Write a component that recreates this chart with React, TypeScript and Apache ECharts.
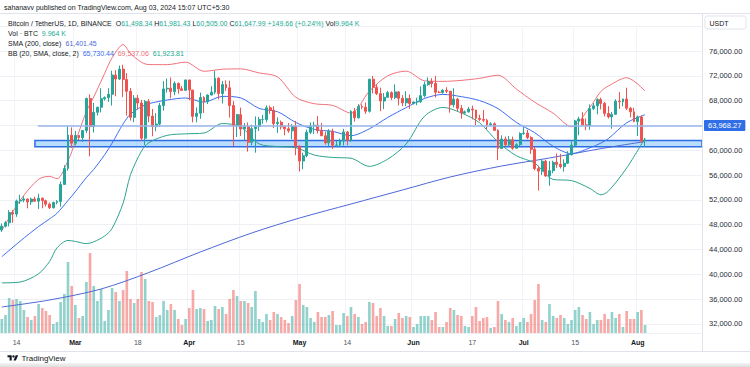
import React, { useEffect, useRef } from "react";
import * as echarts from "echarts";

// ---------- data ----------
const START = Date.UTC(2024, 1, 10);
const DAY = 86400000;
const SLOTS = 191;

const opens = [
  47130, 47750, 48290, 49960, 49700, 51800, 51940, 52130, 51660, 52120,
  51780, 52260, 51850, 51300, 50730, 51570, 51730, 54480, 57040, 62430,
  61130, 62390, 62030, 63170, 68330, 63800, 66110, 66930, 68300, 68500,
  69020, 72120, 71480, 73080, 71390, 69500, 65300, 68390, 67610, 61940,
  67840, 65500, 63800, 64220, 67210, 69880, 69990, 69460, 70780, 69900,
  69650, 71330, 69700, 65460, 65960, 68490, 67830, 68900, 69360, 71620,
  69150, 70590, 70060, 67200, 63920, 65740, 63420, 63790, 61280, 63470,
  63820, 64940, 64940, 66840, 66410, 64280, 64500, 63770, 63460, 63120,
  63840, 60640, 58250, 59120, 62890, 63890, 64030, 63160, 62330, 61190,
  63070, 60790, 60830, 61480, 62940, 61580, 66270, 65230, 67050, 66940,
  66280, 71450, 70140, 69120, 67930, 68530, 69280, 68500, 69400, 68370,
  67640, 68350, 67530, 67770, 67820, 68800, 70570, 71080, 70760, 69340,
  69310, 69650, 69510, 67320, 68240, 66750, 66010, 66190, 66640, 66490,
  65140, 64960, 64830, 64100, 64260, 63200, 60280, 61800, 60860, 61670,
  60320, 60890, 62680, 62770, 62040, 60150, 57030, 56630, 58230, 55850,
  56700, 58050, 57720, 57340, 57900, 59230, 60800, 64720, 65040, 64090,
  63970, 66710, 67150, 68170, 67540, 65930, 65370, 65780, 67910, 67810,
  68260, 66780, 66190, 64620, 65360, 61498.34,
];
const closes = [
  47750, 48290, 49960, 49700, 51800, 51940, 52130, 51660, 52120, 51780,
  52260, 51850, 51300, 50730, 51570, 51730, 54480, 57040, 62430, 61130,
  62390, 62030, 63170, 68330, 63800, 66110, 66930, 68300, 68500, 69020,
  72120, 71480, 73080, 71390, 69500, 65300, 68390, 67610, 61940, 67840,
  65500, 63800, 64220, 67210, 69880, 69990, 69460, 70780, 69900, 69650,
  71330, 69700, 65460, 65960, 68490, 67830, 68900, 69360, 71620, 69150,
  70590, 70060, 67200, 63920, 65740, 63420, 63790, 61280, 63470, 63820,
  64940, 64940, 66840, 66410, 64280, 64500, 63770, 63460, 63120, 63840,
  60640, 58250, 59120, 62890, 63890, 64030, 63160, 62330, 61190, 63070,
  60790, 60830, 61480, 62940, 61580, 66270, 65230, 67050, 66940, 66280,
  71450, 70140, 69120, 67930, 68530, 69280, 68500, 69400, 68370, 67640,
  68350, 67530, 67770, 67820, 68800, 70570, 71080, 70760, 69340, 69310,
  69650, 69510, 67320, 68240, 66750, 66010, 66190, 66640, 66490, 65140,
  64960, 64830, 64100, 64260, 63200, 60280, 61800, 60860, 61670, 60320,
  60890, 62680, 62770, 62040, 60150, 57030, 56630, 58230, 55850, 56700,
  58050, 57720, 57340, 57900, 59230, 60800, 64720, 65040, 64090, 63970,
  66710, 67150, 68170, 67540, 65930, 65370, 65780, 67910, 67810, 68260,
  66780, 66190, 64620, 65360, 61500, 61647.99,
];
const highs = [
  48170, 48590, 50330, 50370, 52040, 52820, 52570, 52190, 52350, 52490,
  52990, 52370, 52010, 51550, 51690, 51950, 54940, 57580, 63900, 63680,
  63110, 62430, 63230, 68500, 69000, 67640, 67000, 69990, 68670, 70000,
  72800, 72900, 73650, 73780, 72420, 70040, 68900, 68930, 68120, 68100,
  68240, 66650, 65970, 67620, 71150, 71560, 71730, 71100, 70920, 70360,
  71370, 71340, 69710, 66910, 69290, 68720, 69000, 70330, 72800, 71760,
  71170, 71260, 71230, 67930, 65840, 66870, 64360, 64470, 64120, 65450,
  65390, 65700, 67230, 67200, 67080, 65280, 64790, 63920, 64370, 64230,
  64730, 60780, 59600, 63320, 64490, 64610, 65500, 64390, 62990, 63400,
  63460, 61480, 61850, 63450, 63100, 66450, 66800, 67440, 67400, 67700,
  71500, 71980, 70640, 70100, 69220, 69570, 69500, 70600, 69550, 68900,
  69500, 69000, 67860, 68460, 70290, 71060, 71760, 71620, 71990, 69580,
  69850, 70150, 69560, 69990, 68450, 67300, 66400, 66990, 67200, 66490,
  65730, 66480, 65070, 64520, 64500, 63370, 62400, 62200, 62290, 62190,
  61130, 62890, 63800, 63290, 62270, 60500, 57500, 58480, 58450, 58240,
  58300, 59470, 59400, 58530, 59850, 61420, 64900, 65390, 66130, 65110,
  67390, 67600, 68370, 68480, 67800, 67100, 66170, 68220, 69400, 68300,
  70080, 67000, 66830, 65600, 65600, 61981.43,
];
const lows = [
  46800, 47540, 47710, 48300, 49260, 51330, 51600, 50620, 51180, 51680,
  50520, 50630, 50930, 50520, 50580, 51280, 50900, 54450, 56700, 60360,
  60770, 61650, 61320, 62770, 59000, 62850, 65600, 66090, 68000, 67800,
  67200, 68700, 71330, 68560, 65600, 64780, 64530, 66600, 61500, 60780,
  64530, 62260, 63050, 63790, 66390, 69280, 68380, 68880, 69110, 69570,
  69560, 68060, 64490, 64490, 65070, 66010, 67450, 68860, 69040, 68210,
  67520, 69570, 65260, 60660, 62130, 62300, 61600, 59770, 60780, 59600,
  63090, 64280, 64500, 65850, 63600, 62790, 63320, 62400, 62810, 61770,
  59190, 56550, 56940, 58850, 62590, 62600, 62700, 62280, 60890, 60650,
  60190, 60490, 60630, 60750, 60800, 61330, 64600, 65100, 66600, 65860,
  66060, 69160, 68900, 66300, 66620, 68500, 68110, 68230, 67220, 67100,
  67120, 66670, 67390, 67260, 67610, 68500, 70380, 70120, 68500, 69200,
  69130, 69230, 66050, 66900, 66300, 65080, 65870, 66050, 64970, 64060,
  64690, 64530, 63380, 63930, 63180, 58400, 60260, 60600, 60570, 60070,
  60280, 60630, 62480, 61790, 59400, 56770, 53490, 56010, 55720, 54260,
  56290, 57160, 57050, 56530, 57760, 59220, 60630, 62400, 63900, 63220,
  63300, 66460, 65800, 66570, 65440, 65110, 63460, 65760, 66660, 67070,
  66480, 65300, 64530, 62300, 61200, 60505,
];
// volume, thousands of BTC
const volumesK = [
  17.5, 22.5, 43.8, 41.3, 42.5, 40, 28.8, 20, 16.3, 21.3,
  36.3, 31.3, 27.5, 22.5, 11.3, 13.8, 38.8, 48.8, 88.8, 58.8,
  35, 18.8, 21.3, 63.8, 100, 58.8, 40, 55, 15, 28.8,
  56.3, 51.3, 40, 53.8, 77.5, 42.5, 37.5, 42.5, 76.3, 67.5,
  40, 38.8, 20, 22.5, 40, 28.8, 36.3, 28.8, 17.5, 10,
  17.5, 31.3, 53.8, 30, 31.3, 30, 15, 16.3, 33.8, 30,
  32.5, 23.8, 42.5, 53.8, 46.3, 40, 40, 37.5, 32.5, 52.5,
  17.5, 13.8, 23.8, 16.3, 26.3, 23.8, 20, 16.3, 12.5, 21.3,
  41.3, 61.3, 35, 32.5, 18.8, 13.8, 26.3, 20, 20, 22.5,
  27.5, 10, 10, 25, 21.3, 32.5, 23.8, 20, 11.3, 13.8,
  38.8, 37.5, 21.3, 31.3, 21.3, 8.8, 8.8, 17.5, 25, 18.8,
  21.3, 20, 7.5, 11.3, 21.3, 21.3, 21.3, 16.3, 26.3, 7.5,
  7.5, 13.8, 31.3, 28.8, 22.5, 21.3, 8.8, 7.5, 21.3, 32.5,
  15, 18.8, 20, 6.3, 7.5, 40, 23.8, 16.3, 13.8, 18.8,
  8.8, 13.8, 18.8, 13.8, 23.8, 41.3, 61.3, 16.3, 13.8, 36.3,
  21.3, 18.8, 22.5, 18.8, 11.3, 16.3, 28.8, 32.5, 22.5, 17.5,
  26.3, 11.3, 16.3, 16.3, 23.8, 17.5, 26.3, 18.8, 23.8, 7.5,
  27.5, 17.5, 17.5, 26.3, 28.8, 9.964,
];

// Bollinger Bands (20, 2) read at sample days (day index from Feb 10)
const bbDays = [0, 5, 10, 13, 15, 18, 20, 23, 25, 28, 30, 33, 35, 38, 40, 45, 50, 55, 60, 65, 70, 75, 80, 85, 90, 95, 100, 105, 110, 115, 120, 125, 130, 135, 140, 145, 150, 155, 160, 163, 165, 170, 175];
const bbBasis = [42820, 45340, 47690, 48920, 49820, 51880, 53310, 55590, 56900, 59290, 61140, 64250, 65820, 67020, 67510, 68100, 68420, 67750, 68680, 68440, 66740, 66210, 64470, 63360, 63030, 62340, 63450, 65280, 66870, 68340, 69000, 68640, 68000, 66710, 64480, 62820, 60630, 59440, 60380, 61150, 61860, 64410, 65730.44];
const bbUpper = [47040, 51940, 55310, 55780, 55400, 58320, 61330, 66240, 68580, 72410, 74900, 77030, 75600, 74180, 73810, 73800, 74200, 72730, 73060, 73120, 72460, 71830, 68530, 67500, 67230, 65980, 69510, 72000, 72750, 71200, 71100, 71260, 71590, 72090, 69860, 67740, 65970, 63780, 66930, 69490, 70340, 71690, 69537.06];
const bbLower = [38600, 38740, 40070, 42060, 44240, 45440, 45290, 44930, 45220, 46170, 47380, 51470, 56040, 59860, 61210, 62400, 62640, 62770, 64300, 63760, 61020, 60590, 60410, 59220, 58830, 58700, 57390, 58560, 60990, 65480, 66900, 66020, 64410, 61330, 59100, 57900, 55290, 55100, 53830, 52810, 53380, 57130, 61923.81];

// SMA 200 read at sample days
const smaDays = [0, 13, 27, 40, 54, 68, 81, 95, 109, 122, 136, 149, 163, 175];
const smaValues = [34710, 35840, 37610, 40270, 43580, 46650, 49060, 51320, 53580, 55680, 57450, 58740, 60250, 61401.45];

// horizontal drawings
const levelPrice = 63968.27;
const levelStartDay = 9.8;
const zoneTop = 61550;
const zoneBottom = 60550;
const zoneStartDay = 9;
const lastPrice = 61647.99;

const labelDates = ["2024-02-14", "2024-03-01", "2024-03-18", "2024-04-01", "2024-04-15", "2024-05-01", "2024-05-14", "2024-06-01", "2024-06-17", "2024-07-01", "2024-07-15", "2024-08-01"];
const monthNames = ["Jan", "Feb", "Mar", "Apr", "May", "Jun", "Jul", "Aug", "Sep", "Oct", "Nov", "Dec"];

const FONT = "Liberation Sans, Arial, sans-serif";
const UP = "#26a69a";
const DOWN = "#ef5350";

const logoPath =
  "M14 22H7V11H0V4h14v18z M28 22h-8l7.5-18h8L28 22z M16 8a4 4 0 1 0 8 0a4 4 0 1 0 -8 0z";

export default function App() {
  const ref = useRef<HTMLDivElement>(null);
  useEffect(() => {
    try {
      echarts.graphic.registerShape("tvlogo", echarts.graphic.extendPath(logoPath, {}));
    } catch (e) {}
    const chart = echarts.init(ref.current!, null, { renderer: "svg" });

    const dates: string[] = [];
    for (let i = 0; i < SLOTS; i++) dates.push(new Date(START + i * DAY).toISOString().slice(0, 10));
    const labelSet = new Set(labelDates);
    const showAt = (_i: number, v: string) => labelSet.has(v);

    const candleData = opens.map((o, i) => [o, closes[i], lows[i], highs[i]]);
    const volData = volumesK.map((v, i) => ({
      value: v,
      itemStyle: { color: closes[i] >= opens[i] ? "rgba(38,166,154,0.5)" : "rgba(239,83,80,0.5)" },
    }));
    const pairs = (days: number[], vals: number[]) => days.map((d, i) => [d, vals[i]]);

    const fmtPrice = (v: number) =>
      v.toLocaleString("en-US", { minimumFractionDigits: 2, maximumFractionDigits: 2 });

    const option: any = {
      animation: false,
      backgroundColor: "#ffffff",
      textStyle: { fontFamily: FONT },
      grid: [
        { left: 0, right: 48, top: 26.2, bottom: 43.2 },
        { left: 0, right: 48, bottom: 34, height: 100 },
      ],
      xAxis: [
        {
          type: "category", gridIndex: 0, data: dates, boundaryGap: true,
          axisLine: { show: false }, axisTick: { show: false }, axisLabel: { show: false },
          splitLine: { show: true, interval: showAt, lineStyle: { color: "#f0f3fa", width: 1 } },
        },
        { type: "value", gridIndex: 0, min: -0.5, max: SLOTS - 0.5, show: false },
        {
          type: "category", gridIndex: 1, data: dates, boundaryGap: true,
          axisLine: { show: false }, axisTick: { show: false },
          splitLine: { show: true, interval: showAt, lineStyle: { color: "#f0f3fa", width: 1 } },
          axisLabel: {
            interval: showAt, margin: 5.5, fontSize: 7, fontFamily: FONT,
            formatter: (v: string) => {
              const d = new Date(v + "T00:00:00Z");
              return d.getUTCDate() === 1 ? "{m|" + monthNames[d.getUTCMonth()] + "}" : "{d|" + d.getUTCDate() + "}";
            },
            rich: {
              m: { fontSize: 7, fontWeight: "bold", color: "#131722", fontFamily: FONT },
              d: { fontSize: 7, color: "#50535e", fontFamily: FONT },
            },
          },
        },
      ],
      yAxis: [
        {
          type: "value", gridIndex: 0, position: "right", min: 32000, max: 80000, interval: 4000,
          axisLine: { show: false }, axisTick: { show: false },
          splitLine: { lineStyle: { color: "#eef0f4", width: 1 } },
          axisLabel: {
            showMaxLabel: false, margin: 7, fontSize: 7.5, color: "#2a2e39", fontFamily: FONT,
            formatter: (v: number) => (v === 64000 ? "" : fmtPrice(v)),
          },
        },
        { type: "value", gridIndex: 1, min: 0, max: 125, show: false },
      ],
      series: [
        {
          type: "bar", name: "Vol", xAxisIndex: 2, yAxisIndex: 1, data: volData, barWidth: "72%", z: 1,
        },
        {
          type: "line", name: "bbLowerBase", xAxisIndex: 1, yAxisIndex: 0, stack: "bb",
          data: pairs(bbDays, bbLower), symbol: "none", smooth: 0.3,
          lineStyle: { width: 0, opacity: 0 }, z: 1,
        },
        {
          type: "line", name: "bbFill", xAxisIndex: 1, yAxisIndex: 0, stack: "bb",
          data: bbDays.map((d, i) => [d, bbUpper[i] - bbLower[i]]), symbol: "none", smooth: 0.3,
          lineStyle: { width: 0, opacity: 0 }, areaStyle: { color: "rgba(33,150,243,0.07)" }, z: 1,
        },
        {
          type: "line", name: "SMA200", xAxisIndex: 1, yAxisIndex: 0, data: pairs(smaDays, smaValues),
          symbol: "none", smooth: 0.3, lineStyle: { color: "#4d68d8", width: 1 }, z: 2,
        },
        {
          type: "line", name: "BB upper", xAxisIndex: 1, yAxisIndex: 0, data: pairs(bbDays, bbUpper),
          symbol: "none", smooth: 0.3, lineStyle: { color: "#f0727a", width: 1 }, z: 2,
        },
        {
          type: "line", name: "BB lower", xAxisIndex: 1, yAxisIndex: 0, data: pairs(bbDays, bbLower),
          symbol: "none", smooth: 0.3, lineStyle: { color: "#2ea38e", width: 1 }, z: 2,
        },
        {
          type: "line", name: "BB basis", xAxisIndex: 1, yAxisIndex: 0, data: pairs(bbDays, bbBasis),
          symbol: "none", smooth: 0.3, lineStyle: { color: "#3d6ef0", width: 1 }, z: 2,
        },
        {
          type: "candlestick", name: "BTCUSDT", xAxisIndex: 0, yAxisIndex: 0, data: candleData,
          barWidth: "66%", z: 3,
          itemStyle: { color: UP, color0: DOWN, borderColor: UP, borderColor0: DOWN, borderWidth: 1 },
        },
        {
          type: "line", name: "drawings", xAxisIndex: 1, yAxisIndex: 0, data: [], z: 4,
          markArea: {
            silent: true,
            itemStyle: { color: "rgba(100,181,246,0.45)", borderColor: "#2f6ee6", borderWidth: 1.5 },
            data: [[{ coord: [zoneStartDay, zoneTop] }, { coord: [SLOTS - 0.5, zoneBottom] }]],
          },
          markLine: {
            silent: true, symbol: "none",
            data: [
              [
                {
                  coord: [levelStartDay, levelPrice],
                  lineStyle: { color: "#9ab6ea", width: 1.5, type: "solid" },
                  label: {
                    show: true, position: "end", distance: 2, formatter: fmtPrice(levelPrice),
                    backgroundColor: "#2f6ee6", color: "#ffffff", fontSize: 7.5, padding: [2, 4, 1, 4],
                    borderRadius: 1, fontFamily: FONT,
                  },
                },
                { coord: [SLOTS - 0.5, levelPrice] },
              ],
              [
                {
                  coord: [175, lastPrice],
                  lineStyle: { color: "#22ab94", width: 1, type: "dotted", opacity: 0 },
                  label: {
                    show: true, position: "end", distance: 2, formatter: fmtPrice(lastPrice),
                    backgroundColor: "#22ab94", color: "#ffffff", fontSize: 7.5, padding: [2, 4, 1, 4],
                    borderRadius: 1, fontFamily: FONT,
                  },
                },
                { coord: [SLOTS - 0.5, lastPrice] },
              ],
            ],
          },
        },
      ],
      graphic: [
        {
          type: "text", x: 4, y: 7.5, z: 10,
          style: { text: "sahanavv published on TradingView.com, Aug 03, 2024 15:07 UTC+5:30", fontSize: 7, fill: "#131722", verticalAlign: "middle", fontFamily: FONT },
        },
        { type: "line", z: 10, shape: { x1: 0, y1: 13.5, x2: 750, y2: 13.5 }, style: { stroke: "#e0e3eb", lineWidth: 1 } },
        { type: "line", z: 10, shape: { x1: 702.5, y1: 13.5, x2: 702.5, y2: 351.5 }, style: { stroke: "#e0e3eb", lineWidth: 1 } },
        { type: "line", z: 10, shape: { x1: 0, y1: 333.5, x2: 702, y2: 333.5 }, style: { stroke: "#eef0f4", lineWidth: 1 } },
        { type: "line", z: 10, shape: { x1: 0, y1: 351.5, x2: 750, y2: 351.5 }, style: { stroke: "#e0e3eb", lineWidth: 1 } },
        { type: "rect", z: 10, shape: { x: 705, y: 16, width: 41, height: 13, r: 2 }, style: { fill: "#ffffff", stroke: "#e0e3eb", lineWidth: 1 } },
        { type: "text", z: 11, x: 709.5, y: 23, style: { text: "USDT", fontSize: 7, fill: "#131722", verticalAlign: "middle", fontFamily: FONT } },
        {
          type: "text", x: 8, y: 23.5, z: 10,
          style: {
            text: "{a|Bitcoin / TetherUS, 1D, BINANCE  O}{v|61,498.34}{a| H}{v|61,981.43}{a| L}{v|60,505.00}{a| C}{v|61,647.99}{v| +149.66 (+0.24%)}{a| Vol}{v|9.964 K}",
            verticalAlign: "middle", fontFamily: FONT, fontSize: 7,
            rich: { a: { fill: "#131722", fontSize: 7, fontFamily: FONT }, v: { fill: "#22ab94", fontSize: 7, fontFamily: FONT } },
          },
        },
        {
          type: "text", x: 8, y: 33.5, z: 10,
          style: {
            text: "{a|Vol · BTC}{v|  9.964 K}", verticalAlign: "middle", fontFamily: FONT, fontSize: 7,
            rich: { a: { fill: "#131722", fontSize: 7, fontFamily: FONT }, v: { fill: "#22ab94", fontSize: 7, fontFamily: FONT } },
          },
        },
        {
          type: "text", x: 8, y: 43.5, z: 10,
          style: {
            text: "{a|SMA (200, close)}{b|  61,401.45}", verticalAlign: "middle", fontFamily: FONT, fontSize: 7,
            rich: { a: { fill: "#131722", fontSize: 7, fontFamily: FONT }, b: { fill: "#4d68d8", fontSize: 7, fontFamily: FONT } },
          },
        },
        {
          type: "text", x: 8, y: 53.5, z: 10,
          style: {
            text: "{a|BB (20, SMA, close, 2)}{b|  65,730.44}{r|  69,537.06}{g|  61,923.81}", verticalAlign: "middle", fontFamily: FONT, fontSize: 7,
            rich: {
              a: { fill: "#131722", fontSize: 7, fontFamily: FONT },
              b: { fill: "#3d6ef0", fontSize: 7, fontFamily: FONT },
              r: { fill: "#f0727a", fontSize: 7, fontFamily: FONT },
              g: { fill: "#22ab94", fontSize: 7, fontFamily: FONT },
            },
          },
        },
        { type: "tvlogo", z: 10, x: 7.5, y: 354, scaleX: 0.3, scaleY: 0.3, style: { fill: "#131722" } },
        { type: "text", z: 10, x: 21.5, y: 358.5, style: { text: "TradingView", fontSize: 8, fill: "#131722", verticalAlign: "middle", fontFamily: FONT } },
        {
          type: "rect", z: 9, shape: { x: 0, y: 363, width: 750, height: 4 },
          style: { fill: new echarts.graphic.LinearGradient(0, 0, 0, 1, [{ offset: 0, color: "#f4f4f4" }, { offset: 1, color: "#dedede" }]) },
        },
      ],
    };
    chart.setOption(option);
    return () => chart.dispose();
  }, []);
  return <div ref={ref} style={{ position: "fixed", left: 0, top: 0, width: 750, height: 367 }} />;
}
